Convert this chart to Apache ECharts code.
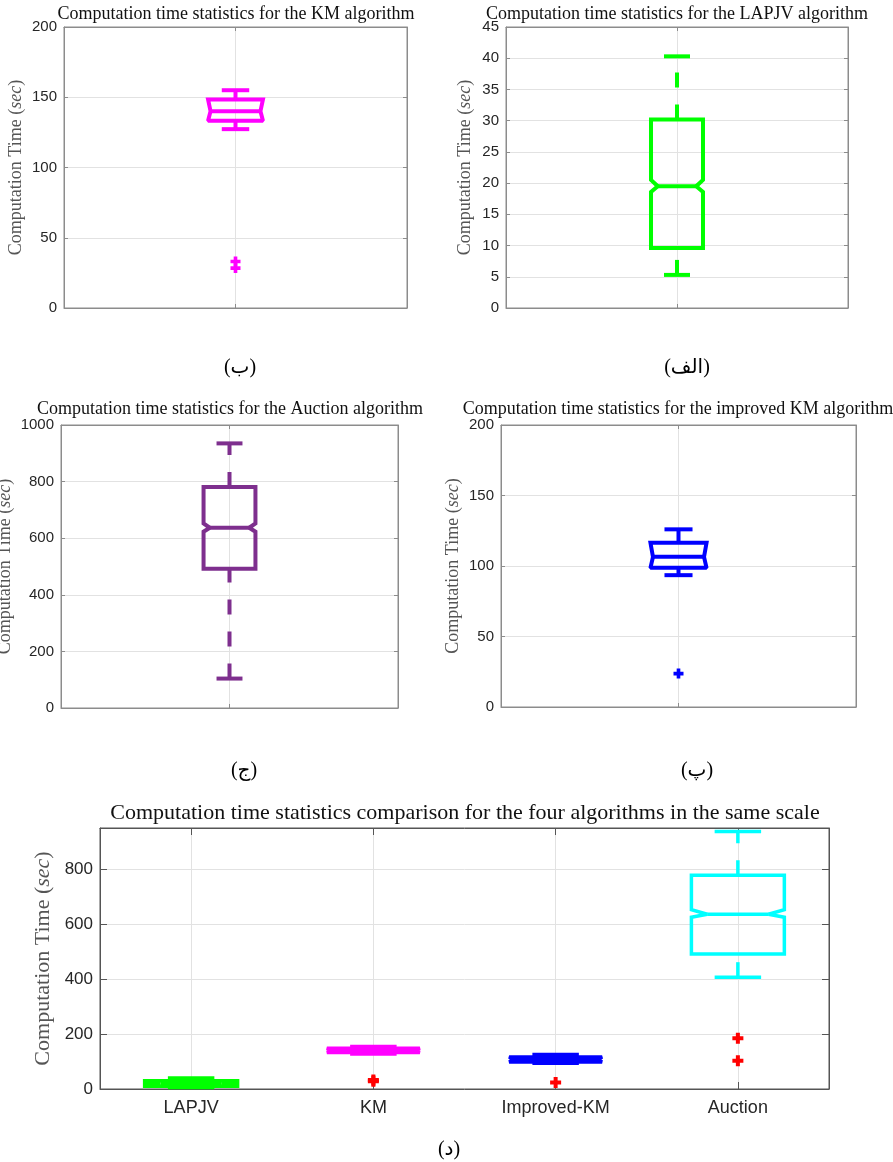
<!DOCTYPE html>
<html><head><meta charset="utf-8">
<script src="https://cdn.jsdelivr.net/npm/echarts@6/dist/echarts.min.js"></script>
<style>html,body{margin:0;padding:0;background:#fff}#c{width:893px;height:1162px}</style>
</head><body><div id="c"></div><script>
// ---------------- data ----------------
// stats order: [lowerWhisker, q1, notchLow, median, notchHigh, q3, upperWhisker]
const kmCategory = ['KM'];
const kmStats = [127.3, 133.3, 133.3, 140.1, 148.4, 148.4, 155.0];
const kmOutliers = [28.4, 33.1];

const lapjvCategory = ['LAPJV'];
const lapjvStats = [5.3, 9.6, 18.6, 19.5, 20.5, 30.2, 40.3];
const lapjvOutliers = [];

const auctionCategory = ['Auction'];
const auctionStats = [104, 492, 623, 637, 652, 781, 935];
const auctionOutliers = [];

const impKmCategory = ['Improved-KM'];
const impKmStats = [93.5, 98.7, 98.7, 106.5, 116.5, 116.5, 126.0];
const impKmOutliers = [23.7];

// comparison panel
const algorithms = ['LAPJV', 'KM', 'Improved-KM', 'Auction'];
const cmpLow     = [5.3, 127.3, 93.5, 407];
const cmpQ1      = [9.6, 133.3, 98.7, 491];
const cmpNotchLo = [18.6, 133.3, 98.7, 625];
const cmpMedian  = [19.5, 140.1, 106.5, 636];
const cmpNotchHi = [20.5, 148.4, 116.5, 653];
const cmpQ3      = [30.2, 148.4, 116.5, 778];
const cmpHigh    = [40.3, 155.0, 126.0, 937];
const cmpOutliers = [[1, 28.4], [1, 33.1], [2, 23.7], [3, 185], [3, 103]];

// axis ranges [min, max, interval]
const kmRange = [0, 200, 50];
const lapjvRange = [0, 45, 5];
const auctionRange = [0, 1000, 200];
const impKmRange = [0, 200, 50];
const cmpRange = [0, 950, 200];

// ---------------- styling / layout ----------------
const GRID = '#e2e2e2';
const TICKC = '#262626';
const NAMEC = '#555555';
const PLUS = 'path://M3.5,0H7.5V3.5H11V7.5H7.5V11H3.5V7.5H0V3.5H3.5Z';

function axesFor(gi, cats, yr, o) {
  const x = {
    type: 'category', gridIndex: gi, data: cats, boundaryGap: true,
    axisLine: { show: true, onZero: false, lineStyle: { color: o.frame, width: 1 } },
    axisTick: { show: true, inside: true, alignWithLabel: true, length: o.tick, lineStyle: { color: o.frame } },
    axisLabel: { show: o.xLabels, color: TICKC, fontFamily: 'Liberation Sans', fontSize: o.xFont || 12, margin: o.xMargin || 8 },
    splitLine: { show: true, alignWithLabel: true, lineStyle: { color: GRID, width: 1 } }
  };
  const xTop = Object.assign({}, x, { position: 'top', axisLabel: { show: false }, splitLine: { show: false } });
  const y = {
    type: 'value', gridIndex: gi, min: yr[0], max: yr[1], interval: yr[2],
    axisLine: { show: true, lineStyle: { color: o.frame, width: 1 } },
    axisTick: { show: true, inside: true, length: o.tick, lineStyle: { color: o.frame } },
    axisLabel: { color: TICKC, fontFamily: 'Liberation Sans', fontSize: o.yFont, margin: 7, showMaxLabel: o.showMax, showMinLabel: true,
      formatter: v => String(v) },
    splitLine: { show: true, lineStyle: { color: GRID, width: 1 } },
    name: 'Computation Time ({i|sec})', nameLocation: 'middle', nameGap: o.nameGap,
    nameTextStyle: {
      color: NAMEC, fontFamily: 'Liberation Serif', fontSize: o.nameFont,
      rich: { i: { fontStyle: 'italic', fontFamily: 'Liberation Serif', fontSize: o.nameFont, color: NAMEC } }
    }
  };
  const yRight = Object.assign({}, y, { position: 'right', name: '', axisLabel: { show: false }, splitLine: { show: false } });
  return { x: [x, xTop], y: [y, yRight] };
}

function boxRenderer(widthFrac, insetFrac, lineW, color, dash) {
  return function (params, api) {
    const c = api.value(0);
    const pt = k => api.coord([c, api.value(k)]);
    const band = api.size([1, 0])[0];
    const w = band * widthFrac;
    const cx = pt(1)[0];
    const yLo = pt(1)[1], yQ1 = pt(2)[1], yNL = pt(3)[1], yMed = pt(4)[1], yNH = pt(5)[1], yQ3 = pt(6)[1], yHi = pt(7)[1];
    const L = cx - w / 2, R = cx + w / 2, ins = w * insetFrac, cap = w / 4;
    const st = { stroke: color, lineWidth: lineW, fill: null, lineCap: 'butt', lineJoin: 'miter', miterLimit: 1.6 };
    const dst = Object.assign({}, st, { lineDash: dash });
    return {
      type: 'group',
      children: [
        { type: 'line', shape: { x1: cx, y1: yQ3, x2: cx, y2: yHi }, style: dst },
        { type: 'line', shape: { x1: cx, y1: yLo, x2: cx, y2: yQ1 }, style: dst },
        { type: 'line', shape: { x1: cx - cap, y1: yHi, x2: cx + cap, y2: yHi }, style: st },
        { type: 'line', shape: { x1: cx - cap, y1: yLo, x2: cx + cap, y2: yLo }, style: st },
        { type: 'polygon', shape: { points: [
            [L, yQ1], [L, yNL], [L + ins, yMed], [L, yNH], [L, yQ3],
            [R, yQ3], [R, yNH], [R - ins, yMed], [R, yNL], [R, yQ1]] }, style: st },
        { type: 'line', shape: { x1: L + ins, y1: yMed, x2: R - ins, y2: yMed }, style: st }
      ]
    };
  };
}

const panels = [
  { cats: kmCategory, stats: [kmStats], outl: kmOutliers.map(v => [0, v]), range: kmRange, color: '#ff00ff', outColor: '#ff00ff',
    grid: { left: 64, top: 27, width: 343, height: 281 }, o: { frame: '#8c8c8c', tick: 4, xLabels: false, yFont: 15, showMax: true, nameGap: 39, nameFont: 18 },
    wf: 0.16, inset: 0.045, lw: 4, sym: 10 },
  { cats: lapjvCategory, stats: [lapjvStats], outl: lapjvOutliers.map(v => [0, v]), range: lapjvRange, color: '#00ff00', outColor: '#00ff00',
    grid: { left: 506, top: 27, width: 342, height: 281 }, o: { frame: '#8c8c8c', tick: 4, xLabels: false, yFont: 15, showMax: true, nameGap: 32, nameFont: 18 },
    wf: 0.152, inset: 0.13, lw: 4, sym: 10 },
  { cats: auctionCategory, stats: [auctionStats], outl: auctionOutliers.map(v => [0, v]), range: auctionRange, color: '#7e2f8e', outColor: '#7e2f8e',
    grid: { left: 61, top: 425, width: 337, height: 283 }, o: { frame: '#8c8c8c', tick: 4, xLabels: false, yFont: 15, showMax: true, nameGap: 47, nameFont: 18 },
    wf: 0.154, inset: 0.12, lw: 4, sym: 10 },
  { cats: impKmCategory, stats: [impKmStats], outl: impKmOutliers.map(v => [0, v]), range: impKmRange, color: '#0000ff', outColor: '#0000ff',
    grid: { left: 501, top: 425, width: 355, height: 282 }, o: { frame: '#8c8c8c', tick: 4, xLabels: false, yFont: 15, showMax: true, nameGap: 39, nameFont: 18 },
    wf: 0.158, inset: 0.045, lw: 4, sym: 10 }
];

const cmpRows = algorithms.map((a, i) => [i, cmpLow[i], cmpQ1[i], cmpNotchLo[i], cmpMedian[i], cmpNotchHi[i], cmpQ3[i], cmpHigh[i]]);
const cmpColors = ['#00ff00', '#ff00ff', '#0000ff', '#00ffff'];
const cmpInsets = [0.17, 0.045, 0.045, 0.17];

const grids = [], xAxes = [], yAxes = [], series = [];
panels.forEach((p, gi) => {
  grids.push(Object.assign({ outerBoundsMode: 'none', containLabel: false, show: true, borderColor: p.o.frame, borderWidth: 1, backgroundColor: '#fff' }, p.grid));
  const ax = axesFor(gi, p.cats, p.range, p.o);
  xAxes.push(...ax.x); yAxes.push(...ax.y);
  series.push({
    type: 'custom', xAxisIndex: 2 * gi, yAxisIndex: 2 * gi, silent: true,
    encode: { x: 0, y: [1, 2, 3, 4, 5, 6, 7] },
    data: p.stats.map(s => [0].concat(s)),
    renderItem: boxRenderer(p.wf, p.inset, p.lw, p.color, [15, 17])
  });
  if (p.outl.length) series.push({
    type: 'scatter', xAxisIndex: 2 * gi, yAxisIndex: 2 * gi, silent: true, z: 5,
    symbol: PLUS, symbolSize: p.sym, itemStyle: { color: p.outColor, opacity: 1 }, data: p.outl
  });
});

// comparison grid (index 4)
grids.push({ outerBoundsMode: 'none', containLabel: false, show: true, borderColor: '#555', borderWidth: 1, backgroundColor: '#fff', left: 100, top: 828, width: 729, height: 261 });
const cax = axesFor(4, algorithms, cmpRange, { frame: '#555', tick: 7, xLabels: true, xFont: 18, xMargin: 10, yFont: 17, showMax: false, nameGap: 45, nameFont: 22 });
xAxes.push(...cax.x); yAxes.push(...cax.y);
cmpRows.forEach((row, i) => {
  series.push({
    type: 'custom', xAxisIndex: 8, yAxisIndex: 8, silent: true,
    encode: { x: 0, y: [1, 2, 3, 4, 5, 6, 7] },
    data: [row],
    renderItem: boxRenderer(0.51, cmpInsets[i], 3.5, cmpColors[i], [15, 17])
  });
});
series.push({
  type: 'scatter', xAxisIndex: 8, yAxisIndex: 8, silent: true, z: 5,
  symbol: PLUS, symbolSize: 11, itemStyle: { color: '#ff0000', opacity: 1 }, data: cmpOutliers
});

function txt(x, y, text, size, family, color) {
  return { type: 'text', x: x, y: y, silent: true, z: 100,
    style: { text: text, fontSize: size, fontFamily: family, fill: color || '#111', align: 'center', verticalAlign: 'middle' } };
}
const SERIF = '"Liberation Serif", serif';
const CAP = '"Liberation Serif", "DejaVu Sans", serif';
const graphics = [
  txt(236, 14, 'Computation time statistics for the KM algorithm', 18, SERIF),
  txt(677, 14, 'Computation time statistics for the LAPJV algorithm', 18, SERIF),
  txt(230, 409, 'Computation time statistics for the Auction algorithm', 18, SERIF),
  txt(678, 409, 'Computation time statistics for the improved KM algorithm', 18, SERIF),
  txt(465, 813, 'Computation time statistics comparison for the four algorithms in the same scale', 22, SERIF),
  txt(240, 368, '(ب)', 20, CAP, '#000'),
  txt(687, 368, '(الف)', 20, CAP, '#000'),
  txt(244, 771, '(ج)', 20, CAP, '#000'),
  txt(697, 771, '(پ)', 20, CAP, '#000'),
  txt(449, 1150, '(د)', 20, CAP, '#000')
];

const chart = echarts.init(document.getElementById('c'), null, { renderer: 'canvas', width: 893, height: 1162 });
chart.setOption({
  animation: false,
  backgroundColor: '#ffffff',
  grid: grids, xAxis: xAxes, yAxis: yAxes, series: series,
  graphic: graphics
});
</script></body></html>
